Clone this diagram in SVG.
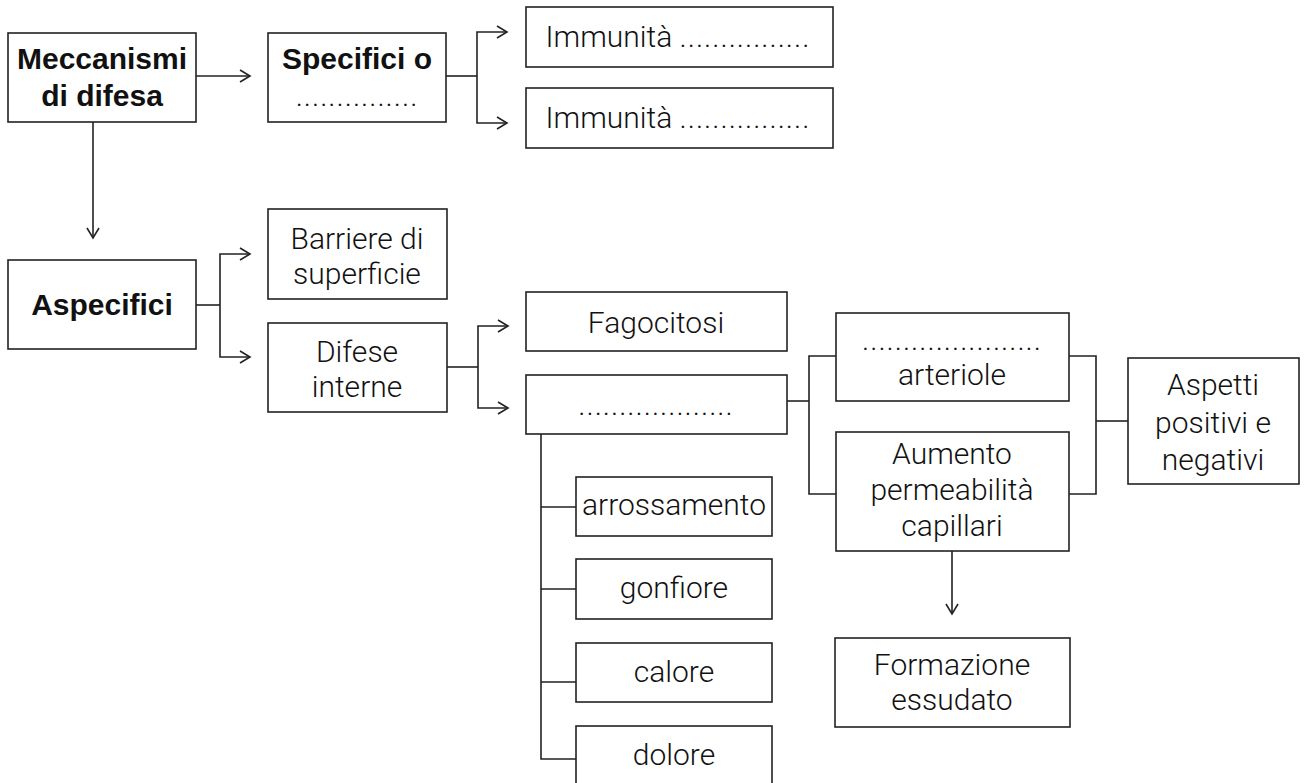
<svg xmlns="http://www.w3.org/2000/svg" width="1304" height="783" viewBox="0 0 1304 783">
<style>
.box{fill:#fff;stroke:#222;stroke-width:1.6}
.ln{fill:none;stroke:#222;stroke-width:1.6}
.ar{marker-end:url(#ah)}
text{font-family:Roboto,"Liberation Sans",Arial,sans-serif;font-weight:300;font-size:30px;fill:#111;text-anchor:middle}
.b{font-family:"Liberation Sans",Arial,sans-serif;font-weight:bold;font-size:30px}
.d{letter-spacing:1px}
</style>
<defs>
<marker id="ah" markerUnits="userSpaceOnUse" markerWidth="14" markerHeight="16" refX="11" refY="7" orient="auto" overflow="visible">
<path d="M1,1 L11,7 L1,13" fill="none" stroke="#222" stroke-width="1.6"/>
</marker>
</defs>
<rect width="1304" height="783" fill="#fff"/>
<g id="connectors">
<path class="ln ar" d="M196,76 H250"/>
<path class="ln ar" d="M93,122 V238"/>
<path class="ln" d="M446,76 H477"/>
<path class="ln ar" d="M477,76 V32 H507"/>
<path class="ln ar" d="M477,76 V123 H507"/>
<path class="ln" d="M196,305 H220"/>
<path class="ln ar" d="M220,305 V254 H250"/>
<path class="ln ar" d="M220,305 V357 H250"/>
<path class="ln" d="M447,367 H478"/>
<path class="ln ar" d="M478,367 V326 H508"/>
<path class="ln ar" d="M478,367 V408 H508"/>
<path class="ln" d="M787,401 H809"/>
<path class="ln" d="M836,356 H809 V494 H836"/>
<path class="ln" d="M1069,356 H1096 V494 H1069"/>
<path class="ln" d="M1096,421 H1128"/>
<path class="ln ar" d="M952,551 V614"/>
<path class="ln" d="M541,434 V759 H576"/>
<path class="ln" d="M541,507 H576 M541,589 H576 M541,682 H576"/>
</g>
<g id="meccanismi">
<rect class="box" x="8" y="33" width="188" height="89"/>
<text class="b" x="102" y="69">Meccanismi</text>
<text class="b" x="102" y="106">di difesa</text>
</g>
<g id="specifici">
<rect class="box" x="268" y="33" width="178" height="89"/>
<text class="b" x="357" y="69">Specifici o</text>
<text class="d" x="357" y="106">...............</text>
</g>
<g id="immunita1">
<rect class="box" x="526" y="7" width="307" height="60"/>
<text x="678" y="47">Immunità <tspan class="d">................</tspan></text>
</g>
<g id="immunita2">
<rect class="box" x="526" y="88" width="307" height="60"/>
<text x="678" y="128">Immunità <tspan class="d">................</tspan></text>
</g>
<g id="aspecifici">
<rect class="box" x="8" y="260" width="188" height="89"/>
<text class="b" x="102" y="315">Aspecifici</text>
</g>
<g id="barriere">
<rect class="box" x="268" y="209" width="179" height="90"/>
<text x="357" y="249">Barriere di</text>
<text x="357" y="284">superficie</text>
</g>
<g id="difese">
<rect class="box" x="268" y="323" width="179" height="89"/>
<text x="357" y="362">Difese</text>
<text x="357" y="397">interne</text>
</g>
<g id="fagocitosi">
<rect class="box" x="526" y="292" width="261" height="59"/>
<text x="656" y="333">Fagocitosi</text>
</g>
<g id="infiammazione">
<rect class="box" x="526" y="375" width="261" height="59"/>
<text class="d" x="656" y="415">...................</text>
</g>
<g id="arteriole">
<rect class="box" x="836" y="313" width="233" height="88"/>
<text class="d" x="952" y="350">......................</text>
<text x="952" y="385">arteriole</text>
</g>
<g id="aumento">
<rect class="box" x="836" y="432" width="233" height="119"/>
<text x="952" y="464">Aumento</text>
<text x="952" y="500">permeabilità</text>
<text x="952" y="536">capillari</text>
</g>
<g id="aspetti">
<rect class="box" x="1128" y="358" width="171" height="126"/>
<text x="1213" y="395">Aspetti</text>
<text x="1213" y="433">positivi e</text>
<text x="1213" y="470">negativi</text>
</g>
<g id="formazione">
<rect class="box" x="835" y="638" width="235" height="89"/>
<text x="952" y="675">Formazione</text>
<text x="952" y="710">essudato</text>
</g>
<g id="arrossamento">
<rect class="box" x="576" y="477" width="196" height="59"/>
<text x="674" y="515">arrossamento</text>
</g>
<g id="gonfiore">
<rect class="box" x="576" y="559" width="196" height="60"/>
<text x="674" y="598">gonfiore</text>
</g>
<g id="calore">
<rect class="box" x="576" y="643" width="196" height="59"/>
<text x="674" y="682">calore</text>
</g>
<g id="dolore">
<rect class="box" x="576" y="726" width="196" height="70"/>
<text x="674" y="765">dolore</text>
</g>
</svg>
